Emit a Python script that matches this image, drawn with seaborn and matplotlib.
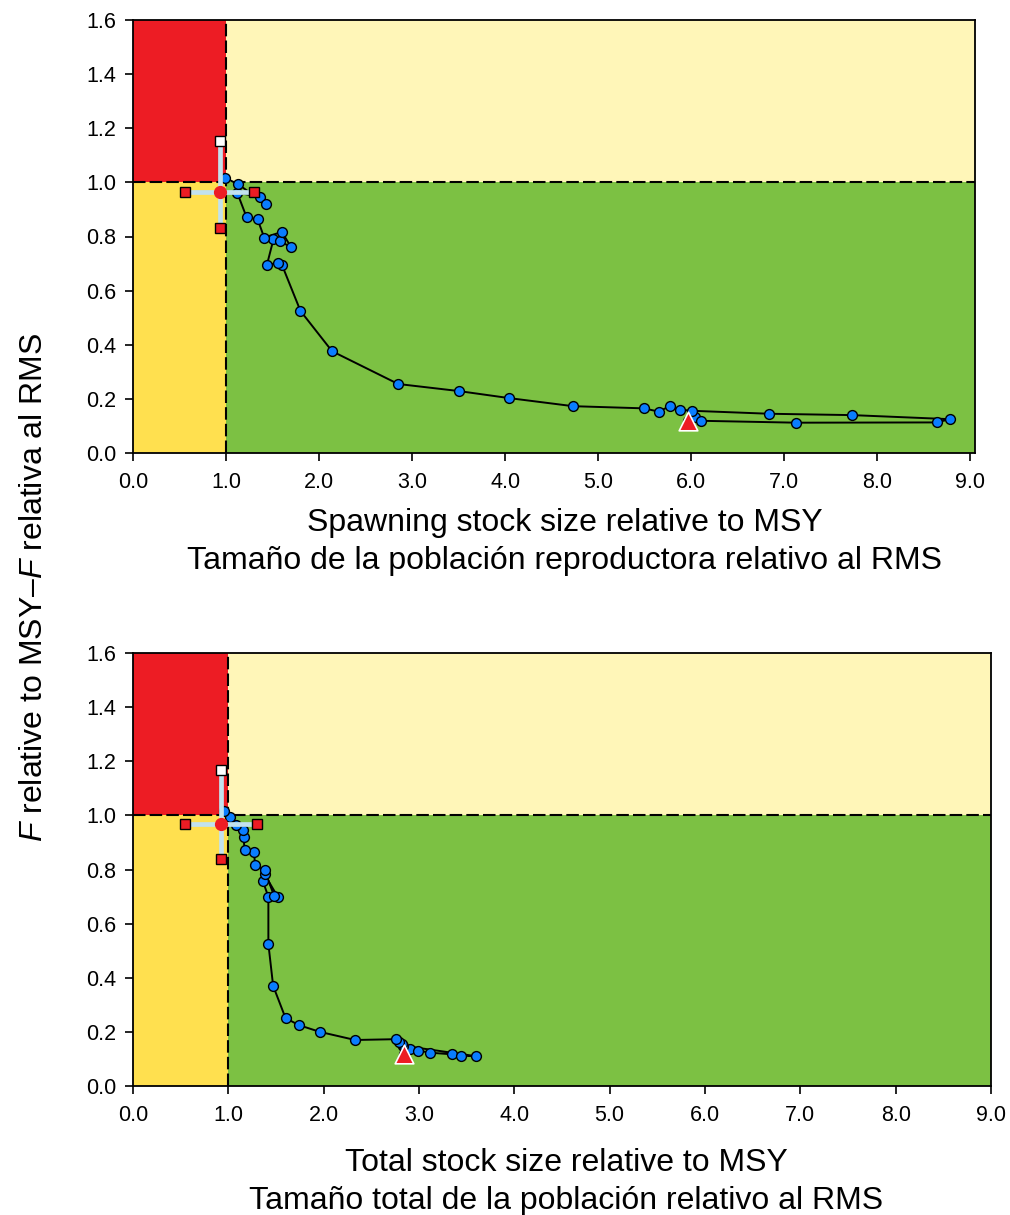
import numpy as np
import pandas as pd
import matplotlib
matplotlib.use("Agg")
import matplotlib.pyplot as plt
import seaborn as sns

# ---------------- data ----------------
# Spawning stock trajectory (S/Smsy, F/Fmsy); first element = first year (triangle)
s_ratio = [5.96, 6.04, 6.11, 7.13, 8.64, 8.78, 7.73, 6.84, 6.01, 5.88, 5.77, 5.65,
           5.49, 4.73, 4.04, 3.50, 2.85, 2.14, 1.80, 1.60, 1.56, 1.44, 1.51, 1.58,
           1.70, 1.60, 1.41, 1.34, 1.22, 1.12, 1.36, 1.43, 1.13, 0.99]
s_f = [0.119, 0.133, 0.119, 0.112, 0.113, 0.125, 0.140, 0.145, 0.156, 0.160, 0.173, 0.153,
       0.165, 0.173, 0.203, 0.229, 0.255, 0.376, 0.525, 0.696, 0.701, 0.696, 0.790, 0.783,
       0.760, 0.817, 0.796, 0.863, 0.872, 0.962, 0.947, 0.920, 0.993, 1.017]

# Total stock trajectory (B/Bmsy, F/Fmsy)
b_ratio = [2.84, 2.91, 2.99, 3.12, 3.35, 3.44, 3.60, 2.83, 2.82, 2.79, 2.76, 2.33,
           1.96, 1.74, 1.60, 1.47, 1.42, 1.42, 1.36, 1.38, 1.52, 1.48, 1.38, 1.28,
           1.27, 1.17, 1.16, 1.15, 1.08, 1.02, 0.95]
b_f = [0.118, 0.137, 0.131, 0.123, 0.117, 0.112, 0.110, 0.149, 0.155, 0.163, 0.173, 0.170,
       0.200, 0.225, 0.251, 0.370, 0.525, 0.699, 0.759, 0.782, 0.698, 0.703, 0.797, 0.815,
       0.865, 0.873, 0.919, 0.947, 0.966, 0.993, 1.015]

# Current estimate with confidence intervals: (x, f, x_low, x_high, f_low, f_high)
s_current = [0.93, 0.965, 0.56, 1.30, 0.832, 1.153]
b_current = [0.92, 0.967, 0.55, 1.30, 0.838, 1.166]

# thresholds / axis ranges
ref_x = 1.0
ref_f = 1.0
f_max = 1.6
x_ticks = [0, 1, 2, 3, 4, 5, 6, 7, 8, 9]
f_ticks = [0.0, 0.2, 0.4, 0.6, 0.8, 1.0, 1.2, 1.4, 1.6]

xlabel_top = "Spawning stock size relative to MSY\nTamaño de la población reproductora relativo al RMS"
xlabel_bot = "Total stock size relative to MSY\nTamaño total de la población relativo al RMS"
ylabel = r"$\mathit{F}$ relative to MSY–$\mathit{F}$ relativa al RMS"

# ---------------- style ----------------
sns.set_style("ticks")
plt.rcParams["font.family"] = ["Liberation Sans", "DejaVu Sans"]
plt.rcParams["mathtext.fontset"] = "custom"
plt.rcParams["mathtext.rm"] = "Liberation Sans"
plt.rcParams["mathtext.it"] = "Liberation Sans:italic"
plt.rcParams["text.color"] = "black"
plt.rcParams["axes.labelcolor"] = "black"

C_RED = "#ED1C24"
C_PALE = "#FFF6B8"
C_YEL = "#FFE04F"
C_GRN = "#7CC143"
C_BLUE = "#0A7DFF"
C_CI = "#C2E2EE"

fig = plt.figure(figsize=(10.1, 12.15), dpi=100)
W, H = 1010, 1215
ax1 = fig.add_axes([133 / W, 1 - 453 / H, 842 / W, 433 / H])
ax2 = fig.add_axes([133 / W, 1 - 1086 / H, 858 / W, 433 / H])


def draw_panel(ax, xr, fr, cur, xmax, xlab, lab_x, lab_y):
    # coloured quadrants
    ax.fill_between([0, ref_x], ref_f, f_max, color=C_RED, lw=0, zorder=0)
    ax.fill_between([ref_x, xmax], ref_f, f_max, color=C_PALE, lw=0, zorder=0)
    ax.fill_between([0, ref_x], 0, ref_f, color=C_YEL, lw=0, zorder=0)
    ax.fill_between([ref_x, xmax], 0, ref_f, color=C_GRN, lw=0, zorder=0)
    ax.axvline(ref_x, color="black", ls=(0, (6, 2)), lw=1.5, zorder=1)
    ax.axhline(ref_f, color="black", ls=(0, (6, 2)), lw=1.5, zorder=1)

    df = pd.DataFrame({"x": xr, "f": fr, "order": np.arange(len(xr))})
    sns.lineplot(data=df, x="x", y="f", sort=False, estimator=None, color="black",
                 lw=1.4, ax=ax, zorder=2)
    sns.scatterplot(data=df, x="x", y="f", color=C_BLUE, edgecolor="black",
                    linewidth=1.0, s=50, ax=ax, zorder=3)
    # first-year triangle
    sns.scatterplot(x=[xr[0]], y=[fr[0]], marker="^", color=C_RED, edgecolor="white",
                    linewidth=1.2, s=180, ax=ax, zorder=6)

    # current estimate with CIs
    cx, cf, xl, xh, fl, fh = cur
    ax.plot([xl, xh], [cf, cf], color=C_CI, lw=3.4, zorder=4, solid_capstyle="butt")
    ax.plot([cx, cx], [fl, fh], color=C_CI, lw=3.4, zorder=4, solid_capstyle="butt")
    ax.plot([xl, xh, cx], [cf, cf, fl], ls="none", marker="s", ms=6.5,
            mfc=C_RED, mec="black", mew=1.0, zorder=5)
    ax.plot([cx], [fh], ls="none", marker="s", ms=6.5, mfc="white", mec="black",
            mew=1.0, zorder=5)
    ax.plot([cx], [cf], ls="none", marker="o", ms=9.5, mfc=C_RED, mec="none", zorder=6)

    ax.set_xlim(0, xmax)
    ax.set_ylim(0, f_max)
    ax.set_xticks(x_ticks)
    ax.set_xticklabels([f"{v:.1f}" for v in x_ticks])
    ax.set_yticks(f_ticks)
    ax.set_yticklabels([f"{v:.1f}" for v in f_ticks])
    ax.tick_params(axis="both", direction="out", length=6, width=1.2,
                   labelsize=15.5, colors="black")
    ax.tick_params(axis="x", pad=8)
    ax.tick_params(axis="y", pad=6)
    for sp in ax.spines.values():
        sp.set_visible(True)
        sp.set_linewidth(1.3)
        sp.set_color("black")
        sp.set_zorder(7)
    ax.set_ylabel("")
    ax.set_xlabel(xlab, fontsize=23, linespacing=1.33, color="black")
    ax.xaxis.set_label_coords(lab_x, lab_y)


draw_panel(ax1, s_ratio, s_f, s_current, 9.05, xlabel_top, 0.513, -0.127)
draw_panel(ax2, b_ratio, b_f, b_current, 9.0, xlabel_bot, 0.505, -0.144)

fig.text(34 / W, 1 - 587 / H, ylabel, rotation=90, ha="center", va="center",
         fontsize=23, color="black")

fig.savefig("out.png", dpi=100)
